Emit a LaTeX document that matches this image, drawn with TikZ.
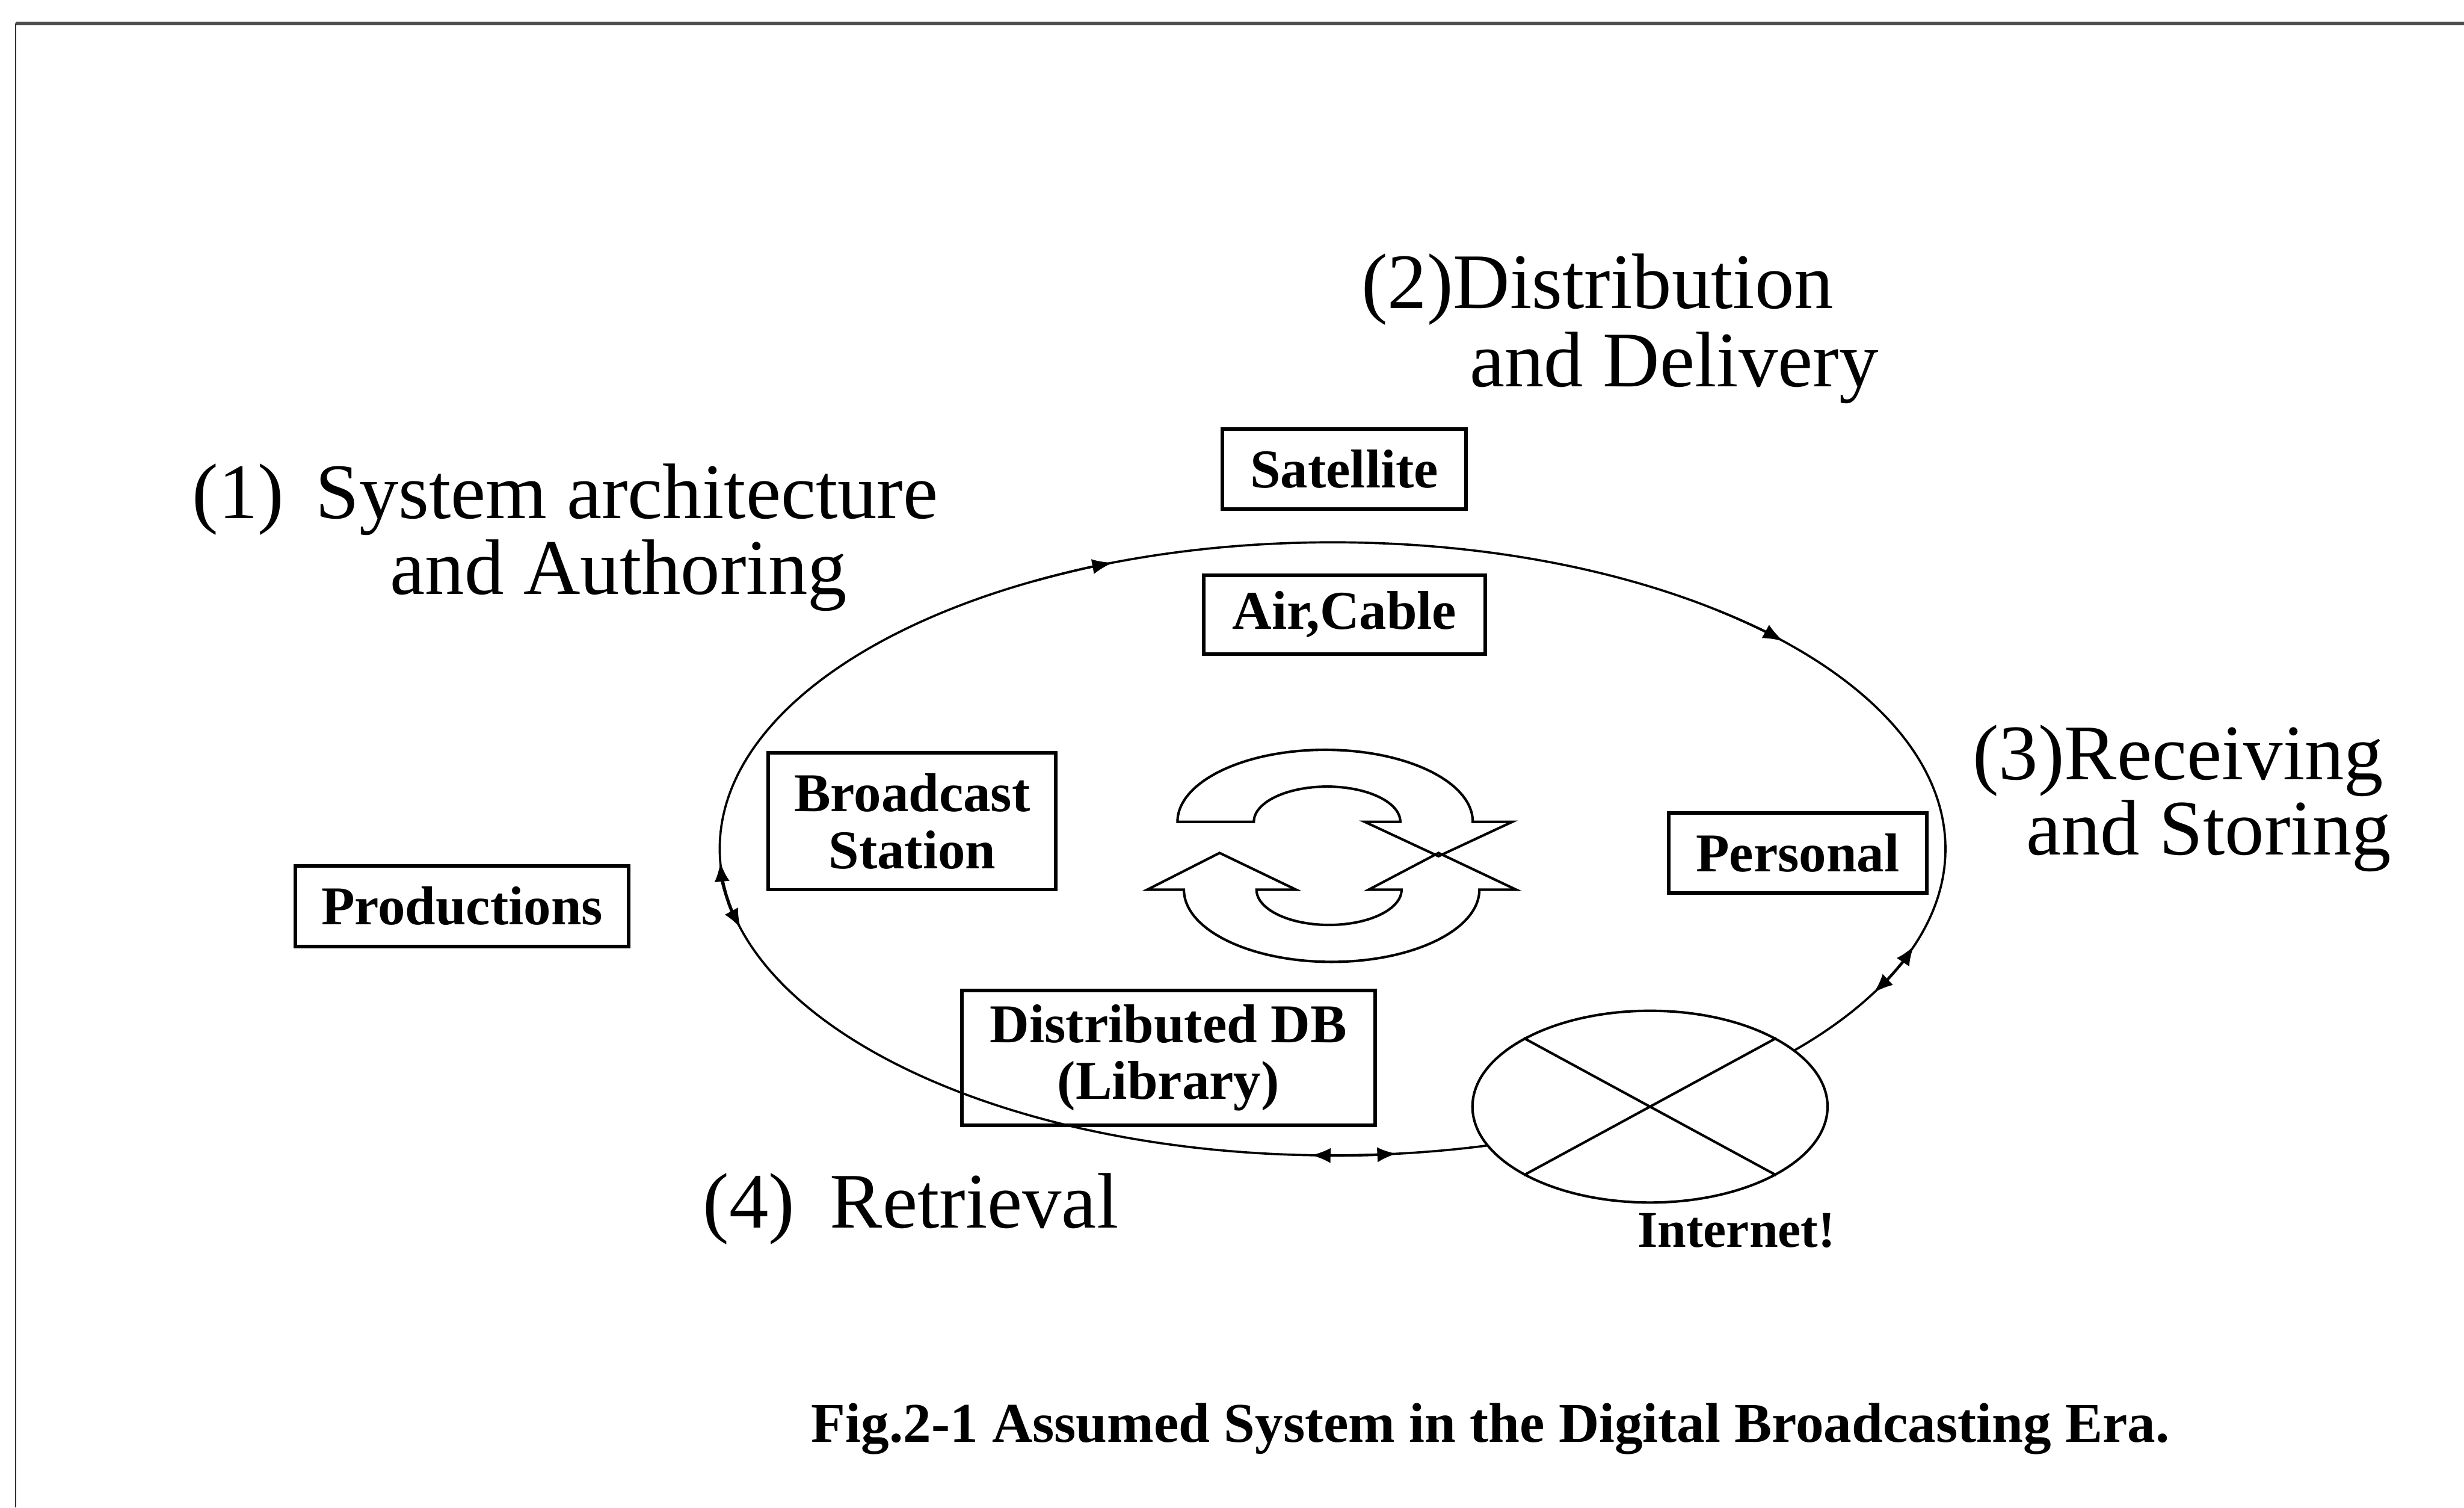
\documentclass[tikz,border=0pt]{standalone}
\usepackage{fontspec}
\setmainfont{Liberation Serif}
\usetikzlibrary{shapes.geometric,arrows.meta,calc}
\begin{document}
\begin{tikzpicture}[x=0.02cm,y=0.02cm,
  box/.style={draw,line width=1.3pt,inner sep=0pt,align=center,
    font=\fontsize{19.8}{20.5}\selectfont\bfseries},
  biglabel/.style={anchor=west,inner sep=0pt,font=\fontsize{28.5}{30}\selectfont},
  ring/.style={line width=0.8pt},
  tipone/.style={line width=0.8pt,-{Latex[length=7.5pt,width=5.5pt]}},
  tiptwo/.style={line width=0.9pt,{Latex[length=7pt,width=5.5pt]}-{Latex[length=7pt,width=5.5pt]}},
  cyc/.style={line width=0.9pt,line join=miter}]
\useasboundingbox (0,0) rectangle (1568,-959);
% frame
\draw[line width=1.4pt,black!70] (10,-15) -- (1568,-15);
\draw[line width=0.4pt,black!80] (10,-15) -- (10,-959);

% main cycle
\coordinate (c) at (848,-540);
\draw[ring] (c) ellipse [x radius=390, y radius=195];
\draw[tipone] ($(c)+(119:390 and 195)$) arc[start angle=119,end angle=111,x radius=390,y radius=195];
\draw[tipone] ($(c)+(51:390 and 195)$) arc[start angle=51,end angle=42.6,x radius=390,y radius=195];
\draw[tiptwo] ($(c)+(182.5:390 and 195)$) arc[start angle=182.5,end angle=195,x radius=390,y radius=195];
\draw[tiptwo] ($(c)+(-18.5:390 and 195)$) arc[start angle=-18.5,end angle=-28,x radius=390,y radius=195];
\draw[tiptwo] ($(c)+(268:390 and 195)$) arc[start angle=268,end angle=276,x radius=390,y radius=195];

% internet
\node[ellipse,draw,fill=white,line width=0.9pt,minimum width=4.52cm,minimum height=2.44cm,inner sep=0pt] (net) at (1050,-704) {};
\draw[line width=0.9pt] (net.north west) -- (net.south east);
\draw[line width=0.9pt] (net.north east) -- (net.south west);
\node[inner sep=0pt,font=\fontsize{18.7}{20}\selectfont\bfseries] (netlbl) at (1105,-783) {Internet!};

% boxes
\node[box,minimum width=3.10cm,minimum height=1.02cm] (sat) at (855.5,-298.5) {Satellite};
\node[box,minimum width=3.58cm,minimum height=1.00cm] (air) at (855.5,-391) {Air,Cable};
\node[box,minimum width=3.66cm,minimum height=1.74cm] (bs) at (580.5,-522.5) {Broadcast\\Station};
\node[box,minimum width=3.28cm,minimum height=1.02cm] (pers) at (1144,-542.5) {Personal};
\node[box,minimum width=4.24cm,minimum height=1.02cm] (prod) at (294,-576.5) {Productions};
\node[box,minimum width=5.26cm,minimum height=1.72cm] (db) at (743.5,-673) {Distributed DB\\(Library)};

% recycle symbol
\draw[cyc] (749.3,-522.8) arc[start angle=180,end angle=0,x radius=93.95,y radius=45.8]
  -- (962.4,-522.8) -- (915.4,-544.7) -- (868.4,-522.8) -- (891.1,-522.8)
  arc[start angle=0,end angle=180,x radius=46.6,y radius=22.4] -- cycle;
\draw[cyc] (730,-566) -- (776.1,-542.6) -- (824.8,-566) -- (799.6,-566)
  arc[start angle=180,end angle=360,x radius=46.15,y radius=22.4]
  -- (870.9,-566) -- (915.4,-542.6) -- (964.9,-566) -- (941.4,-566)
  arc[start angle=0,end angle=-180,x radius=94,y radius=45.9] -- cycle;

% labels
\node[biglabel] (l2a) at (866,-184) {(2)Distribution};
\node[biglabel] (l2b) at (935,-234) {and Delivery};
\node[biglabel] (l1a) at (122,-318) {(1)\hspace{0.4em}System architecture};
\node[biglabel] (l1b) at (248,-366) {and Authoring};
\node[biglabel] (l3a) at (1255,-484) {(3)Receiving};
\node[biglabel] (l3b) at (1289,-532) {and Storing};
\node[biglabel] (l4) at (447,-769) {(4)\hspace{0.45em}Retrieval};
\node[anchor=west,inner sep=0pt,font=\fontsize{20.3}{22}\selectfont\bfseries] (cap) at (516,-909)
  {Fig.2-1 Assumed System in the Digital Broadcasting Era.};
\end{tikzpicture}
\end{document}
